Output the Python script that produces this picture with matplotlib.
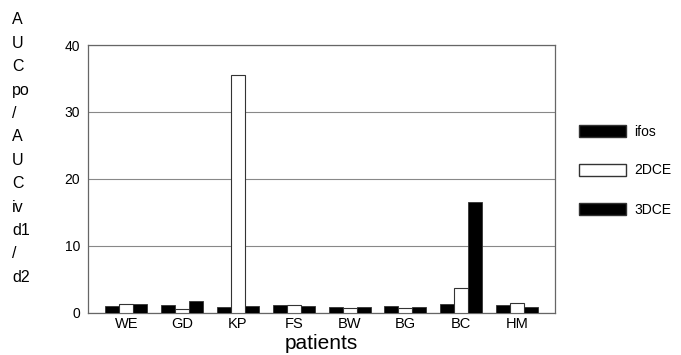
import numpy as np
import matplotlib.pyplot as plt
from matplotlib.patches import Patch

# data
patients = ["WE", "GD", "KP", "FS", "BW", "BG", "BC", "HM"]
ifos = [0.95, 1.15, 0.85, 1.1, 0.85, 0.95, 1.25, 1.1]
dce2 = [1.3, 0.5, 35.6, 1.2, 0.7, 0.7, 3.7, 1.5]
dce3 = [1.35, 1.7, 1.05, 1.0, 0.8, 0.85, 16.5, 0.85]
series_names = ["ifos", "2DCE", "3DCE"]
yticks = [0, 10, 20, 30, 40]
ylabel_lines = ["A", "U", "C", "po", "/", "A", "U", "C", "iv", "d1", "/", "d2"]

plt.rcParams['font.family'] = ['Liberation Sans', 'DejaVu Sans']

fig = plt.figure(figsize=(6.81, 3.55), dpi=100)
ax = fig.add_axes([0.1297, 0.1192, 0.6853, 0.7538])

x = np.arange(len(patients))
w = 0.25
edge = "#333333"
ax.bar(x - w, ifos, w, color="black", edgecolor=edge, linewidth=0.6, zorder=3)
ax.bar(x, dce2, w, color="white", edgecolor=edge, linewidth=0.8, zorder=3)
ax.bar(x + w, dce3, w, color="black", edgecolor=edge, linewidth=0.6, zorder=3)

ax.set_xlim(-0.68, 7.68)
ax.set_ylim(0, 40)
ax.set_yticks(yticks)
ax.set_xticks(x)
ax.set_xticklabels(patients, fontsize=10.5)
ax.tick_params(axis="y", labelsize=10, length=0, pad=6)
ax.tick_params(axis="x", length=0, pad=3)
ax.yaxis.grid(True, color="#888888", linewidth=0.8, zorder=0)
for s in ax.spines.values():
    s.set_color("#666666")
    s.set_linewidth(0.9)

ax.set_xlabel("patients", fontsize=15, labelpad=2)

# stacked y label
for i, t in enumerate(ylabel_lines):
    fig.text(12 / 681, 1 - (20 + i * 23.4) / 355, t, fontsize=11.5,
             ha="left", va="center")

handles = [Patch(facecolor="black", edgecolor=edge),
           Patch(facecolor="white", edgecolor=edge),
           Patch(facecolor="black", edgecolor=edge)]
fig.legend(handles, series_names, loc="upper left",
           bbox_to_anchor=(566 / 681, 1 - 112 / 355), frameon=False,
           fontsize=10, handlelength=3.4, handleheight=0.93,
           labelspacing=1.8, handletextpad=0.6)

fig.savefig("out.png", dpi=100)
